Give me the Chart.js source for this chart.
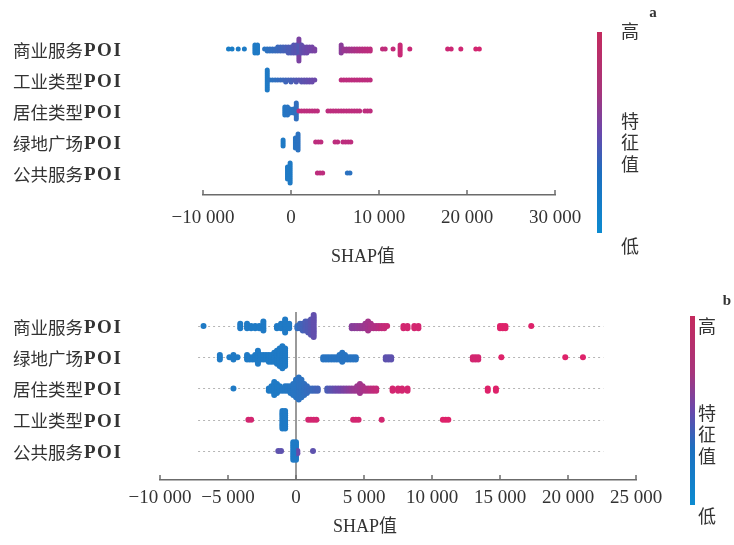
<!DOCTYPE html>
<html>
<head>
<meta charset="utf-8">
<script src="https://cdn.jsdelivr.net/npm/chart.js@4.4.0/dist/chart.umd.min.js"></script>
<style>
body{margin:0;background:#fff}
#wrap{position:relative;width:734px;height:545px}
canvas{position:absolute;left:0}
</style>
</head>
<body>
<div id="wrap">
<canvas id="chartA" width="734" height="275" style="top:0"></canvas>
<canvas id="chartB" width="734" height="270" style="top:275px"></canvas>
</div>
<script>
// rows are [shap value, feature value 0..1, how many points]
const labelsA = ['商业服务POI', '工业类型POI', '居住类型POI', '绿地广场POI', '公共服务POI'];
const labelsB = ['商业服务POI', '绿地广场POI', '居住类型POI', '工业类型POI', '公共服务POI'];
const ticksA = [-10000, 0, 10000, 20000, 30000];
const ticksB = [-10000, -5000, 0, 5000, 10000, 15000, 20000, 25000];

// panel a
const aCommercial = [
	[-7100,.03,1],[-6700,.03,1],[-6000,.04,1],[-5300,.04,1],[-4100,.05,5],[-3800,.05,5],
	[-3000,.1,1],[-2700,.12,2],[-2400,.14,2],[-2100,.16,2],[-1800,.18,2],[-1500,.2,3],[-1200,.22,3],
	[-900,.25,3],[-600,.27,3],[-300,.3,4],[0,.32,4],[300,.35,5],[600,.38,5],[900,.33,7],[900,.55,5],
	[1200,.42,5],[1500,.45,4],[1800,.48,4],[2100,.5,3],[2400,.52,3],[2700,.55,2],
	[5700,.62,5],[6000,.68,2],[6300,.7,2],[6600,.72,2],[6900,.74,2],[7200,.76,2],[7500,.78,2],
	[7800,.8,2],[8100,.82,2],[8400,.83,2],[8700,.84,2],[9000,.85,2],
	[10400,.86,1],[10700,.86,1],[11600,.88,1],[12400,.9,6],[13500,.9,1],
	[17800,.92,1],[18200,.92,1],[19300,.93,1],[21000,.95,1],[21400,.95,1]
];
const aIndustrial = [
	[-2700,.05,11],[-2400,.1,1],[-2100,.12,1],[-1800,.14,1],[-1500,.16,1],[-1200,.18,1],[-900,.2,1],
	[-600,.22,2],[-300,.25,1],[0,.28,2],[300,.3,1],[600,.33,2],[900,.36,1],[1200,.38,2],[1500,.4,2],
	[1800,.42,2],[2100,.44,2],[2400,.46,2],[2700,.48,1],
	[5700,.85,1],[6000,.85,1],[6300,.85,1],[6600,.85,1],[6900,.85,1],[7200,.85,1],[7500,.85,1],
	[7800,.85,1],[8100,.85,1],[8400,.85,1],[8700,.85,1],[9000,.85,1]
];
const aResidential = [
	[-700,.08,5],[-400,.1,5],[-100,.1,3],[300,.12,3],[600,.15,9],
	[900,.85,1],[1200,.85,1],[1500,.85,1],[1800,.85,1],[2100,.85,1],[2400,.85,1],[2700,.85,1],[3000,.85,1],
	[4200,.85,1],[4500,.85,1],[4800,.85,1],[5100,.85,1],[5400,.85,1],[5700,.85,1],[6000,.85,1],
	[6300,.85,1],[6600,.85,1],[6900,.85,1],[7200,.85,1],[7500,.85,1],[7800,.85,1],[8400,.85,1],
	[8700,.85,1],[9000,.85,1]
];
const aGreen = [
	[-900,.05,4],[500,.1,6],[800,.12,9],[2800,.85,1],[3100,.85,1],[3400,.85,1],
	[5000,.85,1],[5300,.85,1],[5900,.85,1],[6200,.85,1],[6500,.85,1],[6800,.85,1]
];
const aPublic = [
	[-400,.05,7],[-100,.05,11],[3000,.85,1],[3300,.85,1],[3600,.85,1],[6400,.12,1],[6700,.12,1]
];

// panel b
const bCommercial = [
	[-6800,.05,1],[-4100,.05,3],[-3600,.05,3],[-3300,.05,2],[-3000,.05,2],[-2700,.05,2],[-2400,.05,5],
	[-1400,.05,2],[-1100,.05,3],[-800,.05,7],[-500,.05,3],
	[100,.15,2],[300,.2,3],[500,.25,4],[700,.3,5],[900,.33,6],[1100,.37,8],[1300,.42,11],
	[4100,.6,2],[4300,.62,2],[4500,.64,2],[4700,.66,2],[4900,.68,2],[5100,.7,3],[5300,.73,5],
	[5500,.76,3],[5700,.78,2],[5900,.8,2],[6100,.83,2],[6300,.86,2],[6500,.88,2],[6700,.9,1],
	[7900,.95,2],[8200,.95,2],[8700,.95,2],[9000,.95,2],
	[15000,1,2],[15200,1,2],[15400,1,2],[17300,1,1]
];
const bGreen = [
	[-5600,.05,3],[-4900,.05,1],[-4600,.05,3],[-4300,.05,1],
	[-3600,.05,3],[-3400,.05,2],[-3200,.05,2],[-3000,.05,3],[-2800,.05,7],[-2600,.05,3],
	[-2400,.05,3],[-2200,.05,3],[-2000,.05,4],[-1800,.05,4],[-1600,.05,5],[-1400,.05,7],
	[-1200,.05,9],[-1000,.05,11],[-800,.05,9],
	[2000,.1,2],[2200,.1,2],[2400,.1,2],[2600,.1,2],[2800,.1,2],[3000,.1,2],[3200,.1,3],
	[3400,.1,5],[3600,.1,3],[3800,.1,2],[4000,.1,2],[4200,.1,2],[4400,.1,2],
	[6600,.4,2],[6800,.4,2],[7000,.4,2],
	[13000,.95,2],[13200,.95,2],[13400,.95,2],[15100,1,1],[19800,1,1],[21100,1,1]
];
const bResidential = [
	[-4600,.05,1],
	[-2000,.05,2],[-1800,.05,3],[-1600,.05,7],[-1400,.05,5],[-1200,.05,3],
	[-1000,.07,2],[-800,.07,3],[-600,.08,3],[-400,.08,4],[-200,.1,6],[0,.1,9],[200,.12,11],
	[400,.12,9],[600,.14,6],[800,.16,4],[1000,.18,2],[1200,.2,2],[1400,.22,2],[1600,.25,2],
	[2300,.3,2],[2500,.35,2],[2700,.4,2],[2900,.45,2],[3100,.48,2],[3300,.5,2],[3500,.54,2],
	[3700,.58,2],[3900,.62,2],[4100,.65,2],[4300,.68,2],[4500,.7,3],[4700,.72,5],[4900,.75,3],
	[5100,.78,2],[5300,.8,2],[5500,.83,2],[5700,.86,2],[5900,.88,2],
	[7100,.95,2],[7500,.95,2],[7800,.95,2],[8200,.95,2],[14100,1,2],[14700,1,2]
];
const bIndustrial = [
	[-3500,.95,1],[-3300,.95,1],[-1000,.05,9],[-800,.05,9],
	[900,.95,1],[1100,.95,1],[1300,.95,1],[1500,.95,1],[4200,.95,1],[4400,.95,1],[4600,.95,1],
	[6300,.95,1],[10800,1,1],[11000,1,1],[11200,1,1]
];
const bPublic = [
	[-1300,.4,1],[-1100,.4,1],[-200,.05,9],[0,.05,9],[100,.45,2],[1250,.4,1]
];

const latin = '"Liberation Serif", "Noto Sans CJK SC", serif';
const textColor = '#333';

function featColor(f) {
	const stops = [[0, [22,128,200]], [0.5, [112,70,168]], [1, [222,34,106]]];
	for (let i = 1; i < stops.length; i++) {
		if (f <= stops[i][0]) {
			const a = stops[i-1], b = stops[i];
			const t = (f - a[0]) / (b[0] - a[0]);
			const c = a[1].map((v, k) => Math.round(v + (b[1][k] - v) * t));
			return 'rgb(' + c.join(',') + ')';
		}
	}
	return 'rgb(222,34,106)';
}

function fmt(v) {
	const s = String(Math.abs(v)).replace(/\B(?=(\d{3})+(?!\d))/g, ' ');
	return v < 0 ? '\u2212' + s : s;
}

// beeswarm: points in the same bin get stacked up and down
function swarm(rows, binW, stepPx, rowPx) {
	return rows.map((row, r) => {
		const bins = {};
		row.forEach(([v, f, n]) => {
			for (let k = 0; k < n; k++) {
				const b = Math.round(v / binW);
				(bins[b] = bins[b] || []).push({v: v, f: f});
			}
		});
		const out = [];
		Object.values(bins).forEach(list => list.forEach((p, layer) => {
			const off = Math.ceil(layer / 2) * (layer % 2 ? 1 : -1) * stepPx;
			out.push({x: p.v, y: r + off / rowPx, f: p.f});
		}));
		return out;
	});
}

const decor = {
	id: 'decor',
	beforeDatasetsDraw(chart, args, o) {
		if (!o.rowLines) return;
		const ctx = chart.ctx, x = chart.scales.x, y = chart.scales.y;
		ctx.save();
		ctx.strokeStyle = '#b5b5b5';
		ctx.lineWidth = 1.2;
		ctx.setLineDash([2, 3]);
		o.rowLines.rows.forEach(i => {
			const py = Math.round(y.getPixelForValue(i)) + 0.5;
			ctx.beginPath();
			ctx.moveTo(x.getPixelForValue(o.rowLines.from), py);
			ctx.lineTo(x.getPixelForValue(o.rowLines.to), py);
			ctx.stroke();
		});
		ctx.restore();
	},
	afterDraw(chart, args, o) {
		const ctx = chart.ctx, x = chart.scales.x, y = chart.scales.y, area = chart.chartArea;
		ctx.save();
		// row names: chinese part, then "POI" in serif
		ctx.fillStyle = textColor;
		ctx.textAlign = 'left';
		ctx.textBaseline = 'middle';
		o.labels.forEach((l, i) => {
			const py = y.getPixelForValue(i) + 1;
			const head = l.replace('POI', '');
			ctx.font = '17.5px "Noto Sans CJK SC"';
			ctx.fillText(head, 13, py);
			const w = ctx.measureText(head).width;
			ctx.font = 'bold 19px ' + latin;
			ctx.letterSpacing = '1.5px';
			ctx.fillText('POI', 13 + w + 1, py + 1);
			ctx.letterSpacing = '0px';
		});
		// ticks pointing up from the axis
		ctx.strokeStyle = '#6b6b6b';
		ctx.lineWidth = 1.5;
		x.ticks.forEach(t => {
			const px = x.getPixelForValue(t.value);
			ctx.beginPath();
			ctx.moveTo(px, area.bottom);
			ctx.lineTo(px, area.bottom - 5);
			ctx.stroke();
		});
		// colour bar
		const cb = o.bar;
		const g = ctx.createLinearGradient(0, cb.y1, 0, cb.y0);
		g.addColorStop(0, '#0c8bd0');
		g.addColorStop(0.3, '#1c6fc0');
		g.addColorStop(0.5, '#6a48ac');
		g.addColorStop(0.7, '#a7357c');
		g.addColorStop(1, '#c42a5e');
		ctx.fillStyle = g;
		ctx.fillRect(cb.x, cb.y0, cb.w, cb.y1 - cb.y0);
		ctx.fillStyle = textColor;
		ctx.textAlign = 'center';
		ctx.font = '18px "Noto Sans CJK SC"';
		o.texts.forEach(t => ctx.fillText(t[0], t[1], t[2]));
		ctx.font = 'bold 15px ' + latin;
		ctx.fillText(o.tag[0], o.tag[1], o.tag[2]);
		ctx.font = '18px ' + latin;
		ctx.fillText('SHAP值', o.title[0], o.title[1]);
		ctx.restore();
	}
};

function buildPanel(id, labels, rows, cfg) {
	const pts = swarm(rows, cfg.binW, cfg.step, cfg.rowPx);
	const ctx = document.getElementById(id);
	cfg.decor.labels = labels;
	const chart = new Chart(ctx, {
		type: 'scatter',
		data: {
			datasets: pts.map(p => ({
				data: p,
				backgroundColor: p.map(q => featColor(q.f)),
				borderWidth: 0,
				pointRadius: cfg.radius,
				pointHoverRadius: cfg.radius
			}))
		},
		options: {
			responsive: false,
			animation: false,
			events: [],
			layout: {padding: {left: 13, right: cfg.padRight, top: cfg.padTop, bottom: 0}},
			plugins: {legend: {display: false}, tooltip: {enabled: false}, decor: cfg.decor},
			scales: {
				x: {
					type: 'linear',
					min: cfg.ticks[0],
					max: cfg.ticks[cfg.ticks.length - 1],
					afterBuildTicks: s => { s.ticks = cfg.ticks.map(v => ({value: v})); },
					afterFit: s => { s.height = cfg.xAxisH; },
					grid: {
						display: cfg.zeroLine,
						drawTicks: false,
						lineWidth: 2,
						color: c => (c.tick && c.tick.value === 0) ? '#9a9a9a' : 'rgba(0,0,0,0)'
					},
					border: {display: true, color: '#6b6b6b', width: 1.5},
					ticks: {padding: cfg.tickPad, color: textColor, maxRotation: 0, autoSkip: false,
						font: {family: latin, size: 19}, callback: v => fmt(v)}
				},
				y: {
					type: 'linear',
					reverse: true,
					min: cfg.yMin,
					max: cfg.yMax,
					afterBuildTicks: s => { s.ticks = labels.map((l, i) => ({value: i})); },
					afterFit: s => { s.width = cfg.yAxisW; },
					grid: {display: false},
					border: {display: false},
					ticks: {display: false}
				}
			}
		},
		plugins: [decor]
	});
	return chart;
}

window.chartA = buildPanel('chartA', labelsA, [aCommercial, aIndustrial, aResidential, aGreen, aPublic], {
	binW: 300, step: 2, rowPx: 31, radius: 2.5,
	ticks: ticksA, padRight: 179, padTop: 33.5, xAxisH: 80, yAxisW: 190, tickPad: 12,
	yMin: -0.5, yMax: 4.71, zeroLine: false,
	decor: {
		bar: {x: 597, w: 5, y0: 32, y1: 233},
		texts: [['高', 630, 31], ['特', 630, 121], ['征', 630, 142], ['值', 630, 164], ['低', 630, 246]],
		tag: ['a', 653, 13],
		title: [363, 257]
	}
});

window.chartB = buildPanel('chartB', labelsB, [bCommercial, bGreen, bResidential, bIndustrial, bPublic], {
	binW: 200, step: 2.2, rowPx: 31.25, radius: 3,
	ticks: ticksB, padRight: 98, padTop: 37, xAxisH: 65, yAxisW: 147, tickPad: 7,
	yMin: -0.448, yMax: 4.928, zeroLine: true,
	decor: {
		rowLines: {rows: [0, 1, 2, 3, 4], from: -7200, to: 22600},
		bar: {x: 690, w: 5, y0: 41, y1: 230},
		texts: [['高', 707, 51], ['特', 707, 138], ['征', 707, 159], ['值', 707, 181], ['低', 707, 241]],
		tag: ['b', 727, 26],
		title: [365, 252]
	}
});
</script>
</body>
</html>
